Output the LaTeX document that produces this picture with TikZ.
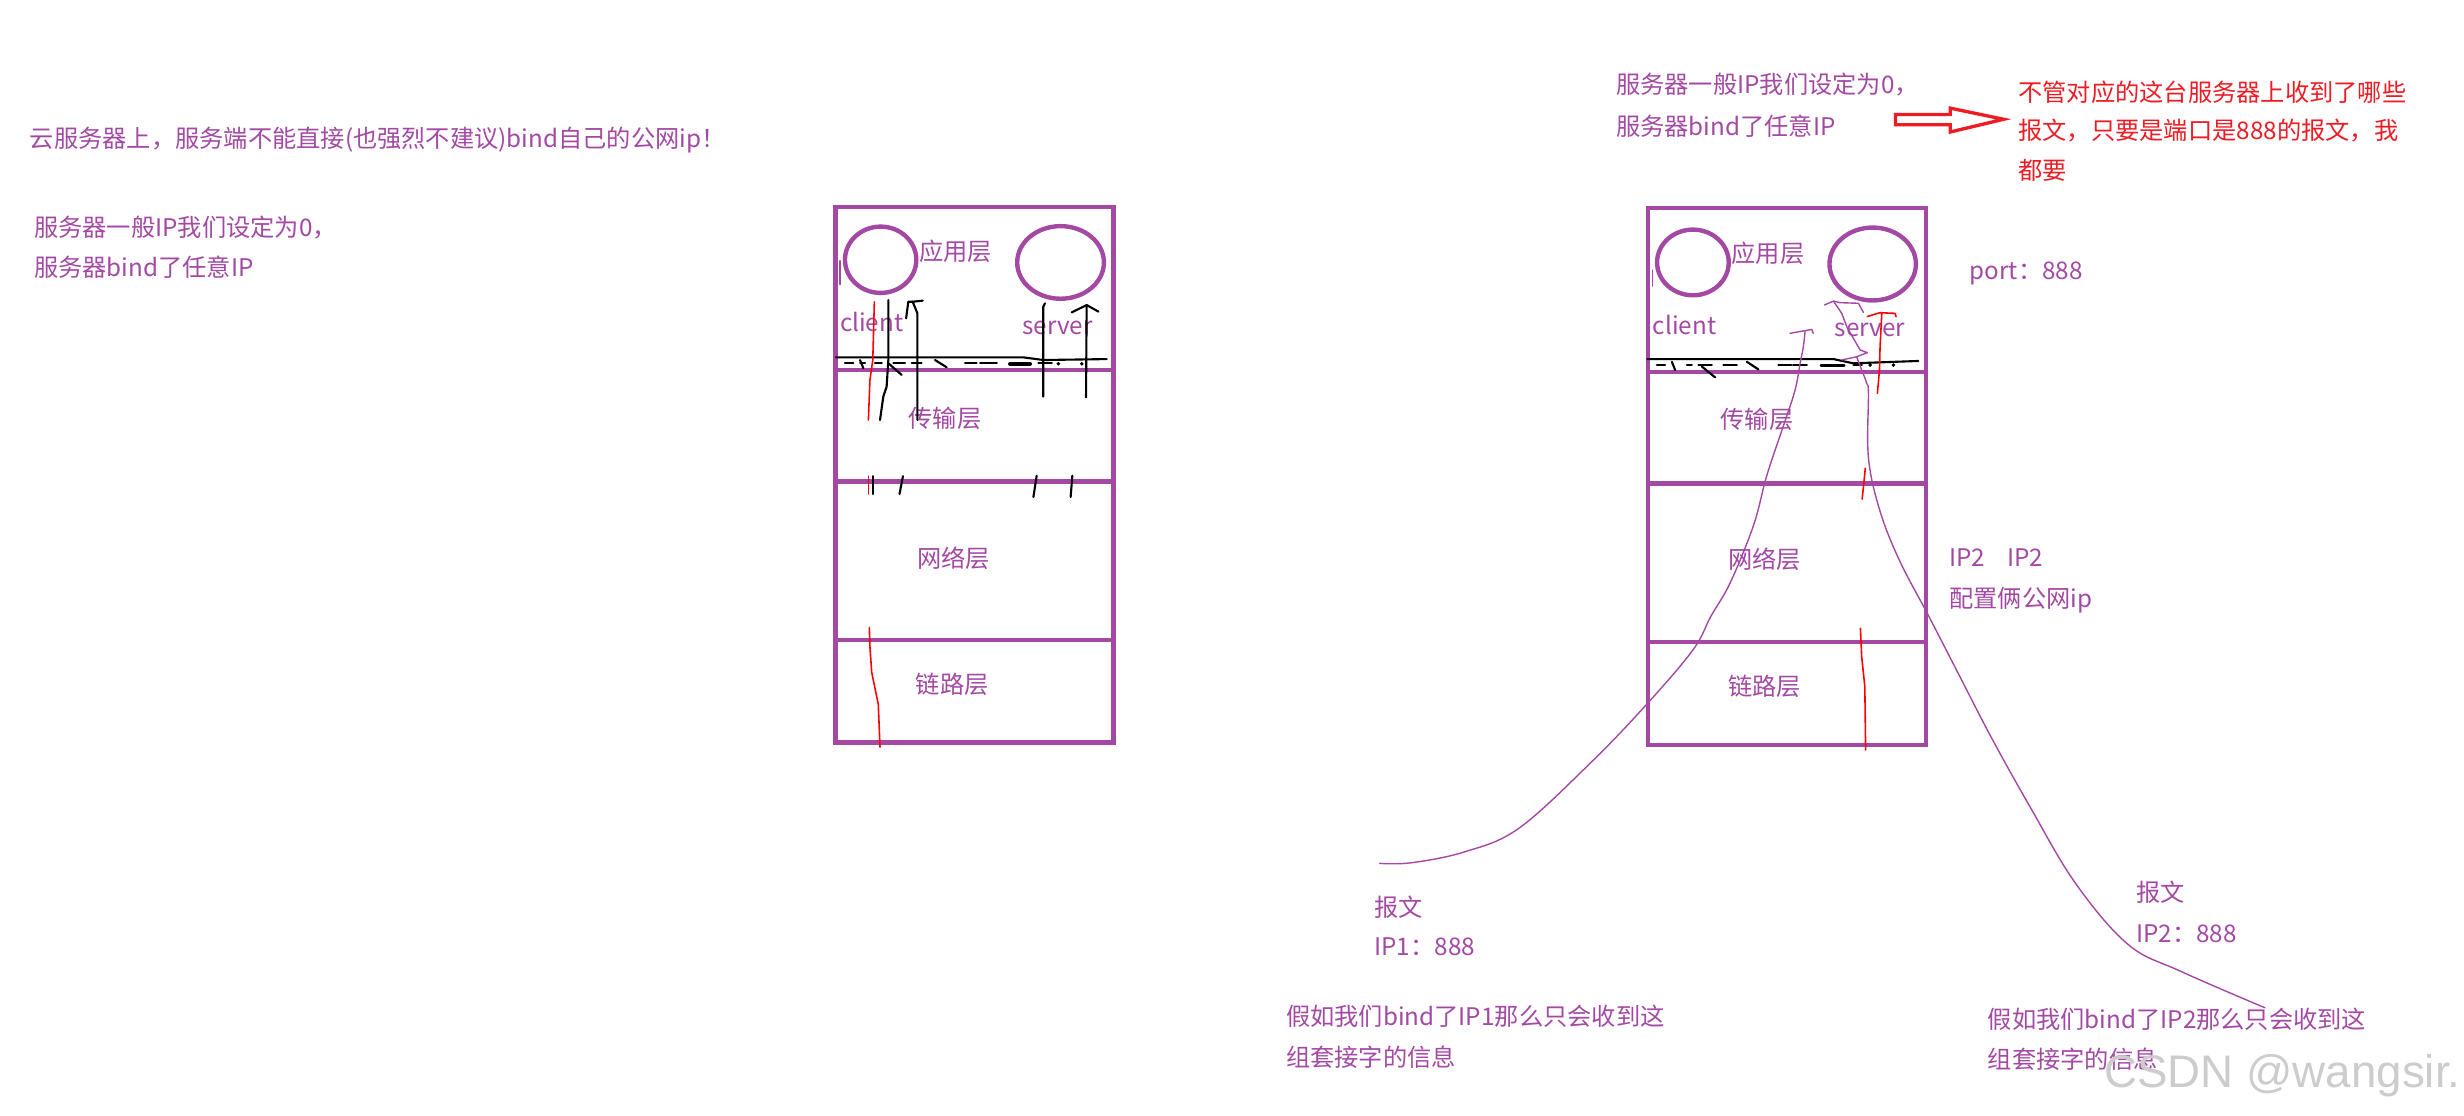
\documentclass[tikz,border=0pt]{standalone}
\usepackage{fontspec}
\setmainfont{Noto Sans CJK SC}
\newfontfamily\wmfont{Liberation Sans}
\definecolor{mpurple}{RGB}{163,73,164}
\definecolor{mred}{RGB}{237,28,36}

\begin{document}
\begin{tikzpicture}[x={(1.5714cm,0)}, y={(0,-1.5714cm)}, line cap=round, line join=round,
  lay/.style={draw=mpurple, line width=1.3pt, line cap=butt, line join=miter},
  ring/.style={draw=mpurple, line width=1.25pt},
  txt/.style={text=mpurple, font=\fontsize{6.9}{11}\selectfont, inner sep=0pt, anchor=west},
  redtxt/.style={txt, text=mred},
  lab/.style={text=mpurple, font=\fontsize{6.9}{11}\selectfont, inner sep=0pt},
  scrib/.style={black, line width=0.6pt},
  wire/.style={mpurple, line width=0.4pt},
  rline/.style={red, line width=0.45pt}]

	\useasboundingbox (0,0) rectangle (15.68,7.10);

	% 左上的说明
	\node[txt] (cloud) at (0.185,0.89) {云服务器上，服务端不能直接(也强烈不建议)bind自己的公网ip！};
	\node[txt] (anyip) at (0.213,1.45) {服务器一般IP我们设定为0，};
	\node[txt] (anyipb) at (0.213,1.70) {服务器bind了任意IP};

	% 左边的协议栈
	\draw[lay] (5.316,1.316) rectangle (7.087,4.725);
	\draw[lay] (5.316,2.355) -- (7.087,2.355);
	\draw[lay] (5.316,3.064) -- (7.087,3.064);
	\draw[lay] (5.316,4.073) -- (7.087,4.073);
	\draw[ring] (5.604,1.653) ellipse [x radius=0.227, y radius=0.211];
	\draw[ring] (6.749,1.670) ellipse [x radius=0.276, y radius=0.231];
	\draw[mpurple, line width=0.5pt] (5.345,1.66) -- (5.345,1.81);

	\node[lab] (lapp) at (6.08,1.60) {应用层};
	\node[lab] (lcli) at (5.547,2.05) {client};
	\node[lab] (lsrv) at (6.73,2.084) {server};
	\node[lab] (ltrans) at (6.014,2.664) {传输层};
	\node[lab] (lnet) at (6.067,3.55) {网络层};
	\node[lab] (llink) at (6.06,4.357) {链路层};

	% 左边的手画线
	\draw[scrib] (5.32,2.274) -- (6.512,2.274) -- (6.64,2.291) -- (7.043,2.285);
	\foreach \a/\b in {5.377/5.430, 5.473/5.505, 5.568/5.611, 5.685/5.759, 5.802/5.865,
	                   6.141/6.215, 6.237/6.343, 6.608/6.693}
	  \draw[scrib] (\a,2.312) -- (\b,2.312);
	\draw[scrib, line width=1.1pt] (6.427,2.315) -- (6.555,2.315);
	\draw[scrib] (5.473,2.291) -- (5.494,2.344);
	\draw[scrib] (5.653,2.312) -- (5.738,2.386);
	\draw[scrib] (5.95,2.291) -- (6.024,2.337);
	\fill (6.735,2.315) circle (0.55pt);
	\fill (6.884,2.315) circle (0.55pt);

	\draw[scrib] (5.653,1.909) -- (5.653,2.291) -- (5.642,2.461) -- (5.621,2.524) -- (5.60,2.673);
	\draw[scrib] (5.838,2.673) -- (5.838,1.994) -- (5.808,1.92) -- (5.872,1.913);
	\draw[scrib] (5.808,1.92) -- (5.78,1.92) -- (5.766,2.026);
	\draw[scrib] (6.639,2.524) -- (6.639,1.952) -- (6.65,1.93);
	\draw[scrib] (6.911,2.529) -- (6.915,1.941);
	\draw[scrib] (6.82,1.988) -- (6.915,1.941) -- (6.99,1.983);
	\draw[scrib] (5.558,3.03) -- (5.558,3.144);
	\draw[scrib] (5.746,3.03) -- (5.724,3.144);
	\draw[scrib] (6.597,3.027) -- (6.576,3.163);
	\draw[scrib] (6.824,3.027) -- (6.813,3.163);

	\draw[rline] (5.564,1.92) -- (5.554,2.291) -- (5.536,2.418) -- (5.526,2.673);
	\draw[rline] (5.526,3.03) -- (5.526,3.144);
	\draw[rline] (5.532,3.993) -- (5.536,4.118) -- (5.547,4.277) -- (5.589,4.482) -- (5.60,4.754);

	% 右上的说明
	\node[txt] (rany) at (10.28,0.54) {服务器一般IP我们设定为0，};
	\node[txt] (ranyb) at (10.28,0.80) {服务器bind了任意IP};
	\draw[mred, line width=0.95pt, line join=miter]
	  (12.062,0.729) -- (12.41,0.729) -- (12.41,0.688) -- (12.75,0.759)
	  -- (12.41,0.840) -- (12.41,0.794) -- (12.062,0.794) -- cycle;
	\node[redtxt] (want) at (12.84,0.59) {不管对应的这台服务器上收到了哪些};
	\node[redtxt] (wantb) at (12.84,0.83) {报文，只要是端口是888的报文，我};
	\node[redtxt] (wantc) at (12.84,1.086) {都要};

	% 右边的协议栈
	\draw[lay] (10.486,1.323) rectangle (12.255,4.74);
	\draw[lay] (10.486,2.368) -- (12.255,2.368);
	\draw[lay] (10.486,3.077) -- (12.255,3.077);
	\draw[lay] (10.486,4.084) -- (12.255,4.084);
	\draw[ring] (10.773,1.670) ellipse [x radius=0.228, y radius=0.209];
	\draw[ring] (11.917,1.680) ellipse [x radius=0.275, y radius=0.232];
	\draw[mpurple, line width=0.5pt] (10.515,1.72) -- (10.515,1.82);

	\node[lab] (rapp) at (11.25,1.61) {应用层};
	\node[lab] (rcli) at (10.72,2.07) {client};
	\node[lab] (rsrv) at (11.90,2.10) {server};
	\node[lab] (rtrans) at (11.18,2.67) {传输层};
	\node[lab] (rnet) at (11.23,3.56) {网络层};
	\node[lab] (rlink) at (11.23,4.366) {链路层};

	\node[txt] (port) at (12.53,1.74) {port：888};
	\node[txt] (twoip) at (12.40,3.55) {IP2\hspace{0.9em}IP2};
	\node[txt] (twoipb) at (12.40,3.82) {配置俩公网ip};

	% 右边的手画线
	\draw[scrib] (10.483,2.285) -- (11.667,2.285) -- (11.794,2.312) -- (12.207,2.297);
	\foreach \a/\b in {10.543/10.596, 10.734/10.766, 10.808/10.893, 10.967/11.052,
	                   11.317/11.40, 11.41/11.498, 11.795/11.848}
	  \draw[scrib] (\a,2.323) -- (\b,2.323);
	\draw[scrib, line width=1.1pt] (11.593,2.326) -- (11.731,2.326);
	\draw[scrib] (10.639,2.302) -- (10.66,2.355);
	\draw[scrib] (10.83,2.333) -- (10.914,2.401);
	\draw[scrib] (11.116,2.302) -- (11.19,2.351);
	\fill (11.901,2.323) circle (0.55pt);
	\fill (12.049,2.323) circle (0.55pt);

	\draw[rline] (11.947,2.503) -- (11.96,2.355) -- (11.964,2.206) -- (11.975,1.99);
	\draw[rline] (11.883,2.015) -- (11.911,2.005) -- (11.964,1.99) -- (12.059,1.994) -- (12.066,2.015);
	\draw[rline] (11.87,2.98) -- (11.85,3.176);
	\draw[rline] (11.839,3.998) -- (11.847,4.179) -- (11.867,4.37) -- (11.872,4.773);

	% 两个报文的路线
	\draw[wire] plot[smooth, tension=0.6] coordinates {(8.779,5.494) (8.983,5.490) (9.323,5.420)
	  (9.665,5.271) (10.119,4.857) (10.475,4.486) (10.773,4.136) (10.886,3.924) (11.010,3.709)
	  (11.158,3.345) (11.243,3.027) (11.349,2.709) (11.423,2.482) (11.455,2.312) (11.476,2.206)
	  (11.487,2.104)};
	\draw[wire] (11.391,2.121) -- (11.487,2.104) -- (11.529,2.096) -- (11.539,2.121);

	\draw[wire] (11.61,1.941) -- (11.667,1.916) -- (11.709,1.926) -- (11.826,1.930) -- (11.858,1.988);
	\draw[wire] (11.667,1.916) -- (11.72,1.994) -- (11.752,2.079) -- (11.794,2.153) -- (11.837,2.227)
	  -- (11.883,2.244) -- (11.815,2.270) -- (11.72,2.291);
	\draw[wire] plot[smooth, tension=0.6] coordinates {(11.815,2.270) (11.847,2.355) (11.879,2.439)
	  (11.890,2.503) (11.890,2.914) (11.964,3.254) (12.090,3.572) (12.270,3.914) (12.470,4.302)
	  (12.672,4.693) (12.917,5.132) (13.207,5.620) (13.542,6.010) (13.877,6.181) (14.413,6.413)};

	% 下面的说明
	\node[txt] (pkta) at (8.742,5.77) {报文};
	\node[txt] (pktab) at (8.742,6.024) {IP1：888};
	\node[txt] (binda) at (8.18,6.47) {假如我们bind了IP1那么只会收到这};
	\node[txt] (bindab) at (8.18,6.725) {组套接字的信息};

	\node[txt] (pktb) at (13.59,5.68) {报文};
	\node[txt] (pktbb) at (13.59,5.94) {IP2：888};
	\node[txt] (bindb) at (12.645,6.485) {假如我们bind了IP2那么只会收到这};
	\node[txt] (bindbb) at (12.645,6.74) {组套接字的信息};

	\node[text=black!20, font=\wmfont\fontsize{13}{13}\selectfont, inner sep=0pt]
	  (mark) at (14.525,6.845) {CSDN @wangsir.};

\end{tikzpicture}
\end{document}
